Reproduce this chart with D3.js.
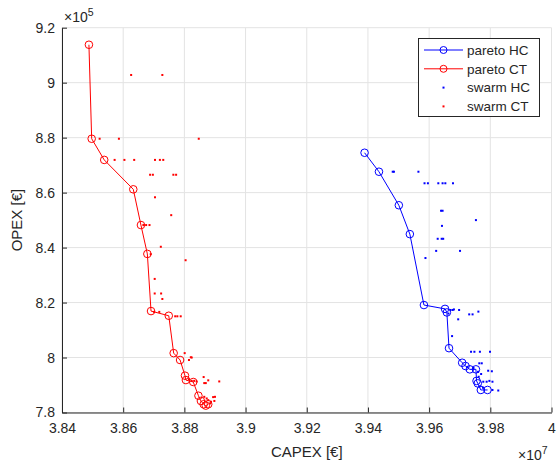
<!DOCTYPE html>
<html>
<head>
<meta charset="utf-8">
<script src="https://cdn.jsdelivr.net/npm/d3@7"></script>
<style>
  body { margin: 0; background: #fff; }
  text { font-family: 'Liberation Sans', Arial, sans-serif; fill: #262626; }
</style>
</head>
<body>
<div class="pareto_chart"></div>
<script>
// values in units of 1e7 EUR (CAPEX) and 1e5 EUR (OPEX)
const paretoHC = [
  [3.9389, 8.745], [3.9436, 8.676], [3.9501, 8.554], [3.9537, 8.449], [3.9583, 8.191],
  [3.9652, 8.177], [3.9658, 8.164], [3.9665, 8.034], [3.9708, 7.981], [3.9719, 7.969],
  [3.9733, 7.957], [3.9753, 7.957], [3.9755, 7.915], [3.9759, 7.906], [3.9769, 7.882],
  [3.9791, 7.882]
]
const paretoCT = [
  [3.8488, 9.138], [3.8497, 8.796], [3.8538, 8.719], [3.8633, 8.612], [3.8658, 8.482],
  [3.8679, 8.377], [3.8691, 8.169], [3.8749, 8.152], [3.8765, 8.016], [3.8786, 7.991],
  [3.8802, 7.934], [3.8805, 7.918], [3.8829, 7.911], [3.8846, 7.861], [3.8854, 7.842],
  [3.8863, 7.830], [3.8870, 7.825], [3.8878, 7.830]
]
const swarmHC = [
  [3.9481, 8.676], [3.9485, 8.676], [3.9565, 8.676],
  [3.9585, 8.634], [3.9596, 8.634], [3.9630, 8.634], [3.9644, 8.634], [3.9653, 8.634], [3.9678, 8.634],
  [3.9639, 8.534], [3.9644, 8.534], [3.9753, 8.500], [3.9642, 8.479],
  [3.9628, 8.432], [3.9641, 8.432], [3.9646, 8.432],
  [3.9623, 8.388], [3.9701, 8.388], [3.9588, 8.362],
  [3.9670, 8.173], [3.9677, 8.173], [3.9698, 8.173], [3.9663, 8.160], [3.9681, 8.175],
  [3.9695, 8.139], [3.9731, 8.157], [3.9742, 8.157], [3.9761, 8.167], [3.9675, 8.078],
  [3.9737, 8.021], [3.9748, 8.021], [3.9766, 8.021], [3.9799, 8.021],
  [3.9764, 7.979], [3.9772, 7.979], [3.9725, 7.965], [3.9745, 7.962], [3.9760, 7.948],
  [3.9793, 7.952], [3.9805, 7.950], [3.9770, 7.940], [3.9762, 7.930],
  [3.9777, 7.912], [3.9788, 7.912], [3.9797, 7.915], [3.9807, 7.912],
  [3.9765, 7.895], [3.9776, 7.890], [3.9807, 7.882], [3.9826, 7.880]
]
const swarmCT = [
  [3.8626, 9.028], [3.8728, 9.028],
  [3.8523, 8.796], [3.8586, 8.796], [3.8847, 8.796],
  [3.8572, 8.719], [3.8604, 8.719], [3.8636, 8.719], [3.8704, 8.719], [3.8720, 8.719], [3.8731, 8.719],
  [3.8688, 8.665], [3.8697, 8.665], [3.8764, 8.665], [3.8773, 8.665],
  [3.8704, 8.583], [3.8757, 8.518],
  [3.8666, 8.482], [3.8675, 8.482], [3.8686, 8.482],
  [3.8723, 8.403], [3.8690, 8.376], [3.8804, 8.354], [3.8703, 8.286],
  [3.8703, 8.233], [3.8724, 8.233], [3.8728, 8.213],
  [3.8701, 8.166], [3.8718, 8.166], [3.8770, 8.150], [3.8777, 8.150], [3.8788, 8.150],
  [3.8801, 8.016], [3.8821, 8.001], [3.8815, 7.991], [3.8824, 8.000],
  [3.8863, 7.929], [3.8878, 7.917], [3.8914, 7.913], [3.8865, 7.907], [3.8870, 7.907],
  [3.8815, 7.921], [3.8824, 7.915], [3.8832, 7.915], [3.8840, 7.913],
  [3.8865, 7.857], [3.8873, 7.851], [3.8878, 7.845], [3.8887, 7.839], [3.8898, 7.842],
  [3.8900, 7.857], [3.8884, 7.833], [3.8894, 7.856]
]
const xTicks = [3.84, 3.86, 3.88, 3.9, 3.92, 3.94, 3.96, 3.98, 4]
const yTicks = [7.8, 8, 8.2, 8.4, 8.6, 8.8, 9, 9.2]
const legendNames = ['pareto HC', 'pareto CT', 'swarm HC', 'swarm CT']
const legendColors = ['#0000ff', '#ff0000', '#0000ff', '#ff0000']

const width = 559
const height = 463
const plotLeft = 62
const plotRight = 551.5
const plotTop = 27.7
const plotBottom = 412.5

const x = d3.scaleLinear().domain([3.84, 4]).range([plotLeft, plotRight])
const y = d3.scaleLinear().domain([7.8, 9.2]).range([plotBottom, plotTop])

const svg = d3.select('.pareto_chart').append('svg')
  .attr('width', width)
  .attr('height', height)

// grid
const grid = svg.append('g').attr('stroke', '#e3e3e3').attr('stroke-width', 1)
grid.selectAll('.gx').data(xTicks).enter().append('line')
  .attr('x1', d => x(d)).attr('x2', d => x(d))
  .attr('y1', plotTop).attr('y2', plotBottom)
grid.selectAll('.gy').data(yTicks).enter().append('line')
  .attr('x1', plotLeft).attr('x2', plotRight)
  .attr('y1', d => y(d)).attr('y2', d => y(d))

// axes
const xAxis = d3.axisBottom(x).tickValues(xTicks).tickSizeInner(-5).tickSizeOuter(0).tickPadding(11)
  .tickFormat(d3.format('~g'))
const yAxis = d3.axisLeft(y).tickValues(yTicks).tickSizeInner(-5).tickSizeOuter(0).tickPadding(7)
  .tickFormat(d3.format('~g'))

const gx = svg.append('g').attr('transform', 'translate(0,' + plotBottom + ')').call(xAxis)
const gy = svg.append('g').attr('transform', 'translate(' + plotLeft + ',0)').call(yAxis)
;[gx, gy].forEach(g => {
  g.select('.domain').attr('stroke', '#262626')
  g.selectAll('.tick line').attr('stroke', '#262626')
  g.selectAll('.tick text').attr('fill', '#262626').style('font-size', '14px')
    .style('font-family', "'Liberation Sans', Arial, sans-serif")
})

// exponent labels
const xExp = svg.append('text').attr('x', 518).attr('y', 460).style('font-size', '14px')
xExp.append('tspan').text('\u00d710')
xExp.append('tspan').attr('dy', -6).style('font-size', '10.5px').text('7')
const yExp = svg.append('text').attr('x', 64).attr('y', 22).style('font-size', '14px')
yExp.append('tspan').text('\u00d710')
yExp.append('tspan').attr('dy', -6).style('font-size', '10.5px').text('5')

// axis titles
svg.append('text').attr('x', (plotLeft + plotRight) / 2).attr('y', 457)
  .attr('text-anchor', 'middle').style('font-size', '15px').text('CAPEX [€]')
svg.append('text').attr('transform', 'translate(22,' + (plotTop + plotBottom) / 2 + ') rotate(-90)')
  .attr('text-anchor', 'middle').style('font-size', '15px').text('OPEX [€]')

const line = d3.line().x(d => x(d[0])).y(d => y(d[1]))

const drawPareto = (data, color) => {
  svg.append('path').datum(data)
    .attr('d', line)
    .attr('fill', 'none')
    .attr('stroke', color)
    .attr('stroke-width', 1)
  svg.append('g').selectAll('circle').data(data).enter().append('circle')
    .attr('cx', d => x(d[0])).attr('cy', d => y(d[1]))
    .attr('r', 3.8)
    .attr('fill', 'none')
    .attr('stroke', color)
    .attr('stroke-width', 1)
}
const drawSwarm = (data, color) => {
  svg.append('g').selectAll('rect').data(data).enter().append('rect')
    .attr('x', d => x(d[0]) - 1).attr('y', d => y(d[1]) - 1)
    .attr('width', 2).attr('height', 2)
    .attr('fill', color)
}

drawPareto(paretoHC, '#0000ff')
drawPareto(paretoCT, '#ff0000')
drawSwarm(swarmHC, '#0000ff')
drawSwarm(swarmCT, '#ff0000')

// legend
const lg = svg.append('g')
lg.append('rect').attr('x', 418.5).attr('y', 38.5).attr('width', 121).attr('height', 78)
  .attr('fill', '#fff').attr('stroke', '#262626').attr('stroke-width', 1)
const rows = lg.selectAll('.row').data(legendNames).enter().append('g')
  .attr('transform', (d, i) => 'translate(0,' + (50 + i * 18.8) + ')')
rows.filter((d, i) => i < 2).append('line')
  .attr('x1', 424).attr('x2', 463).attr('y1', 0).attr('y2', 0)
  .attr('stroke', (d, i) => legendColors[i]).attr('stroke-width', 1)
rows.filter((d, i) => i < 2).append('circle')
  .attr('cx', 443.5).attr('cy', 0).attr('r', 3.5)
  .attr('fill', 'none').attr('stroke', (d, i) => legendColors[i])
rows.filter((d, i) => i >= 2).append('rect')
  .attr('x', 442.5).attr('y', -1).attr('width', 2).attr('height', 2)
  .attr('fill', (d, i) => legendColors[i + 2])
rows.append('text').attr('x', 467).attr('y', 0).attr('dy', '0.35em')
  .style('font-size', '13.5px').text(d => d)
</script>
</body>
</html>
